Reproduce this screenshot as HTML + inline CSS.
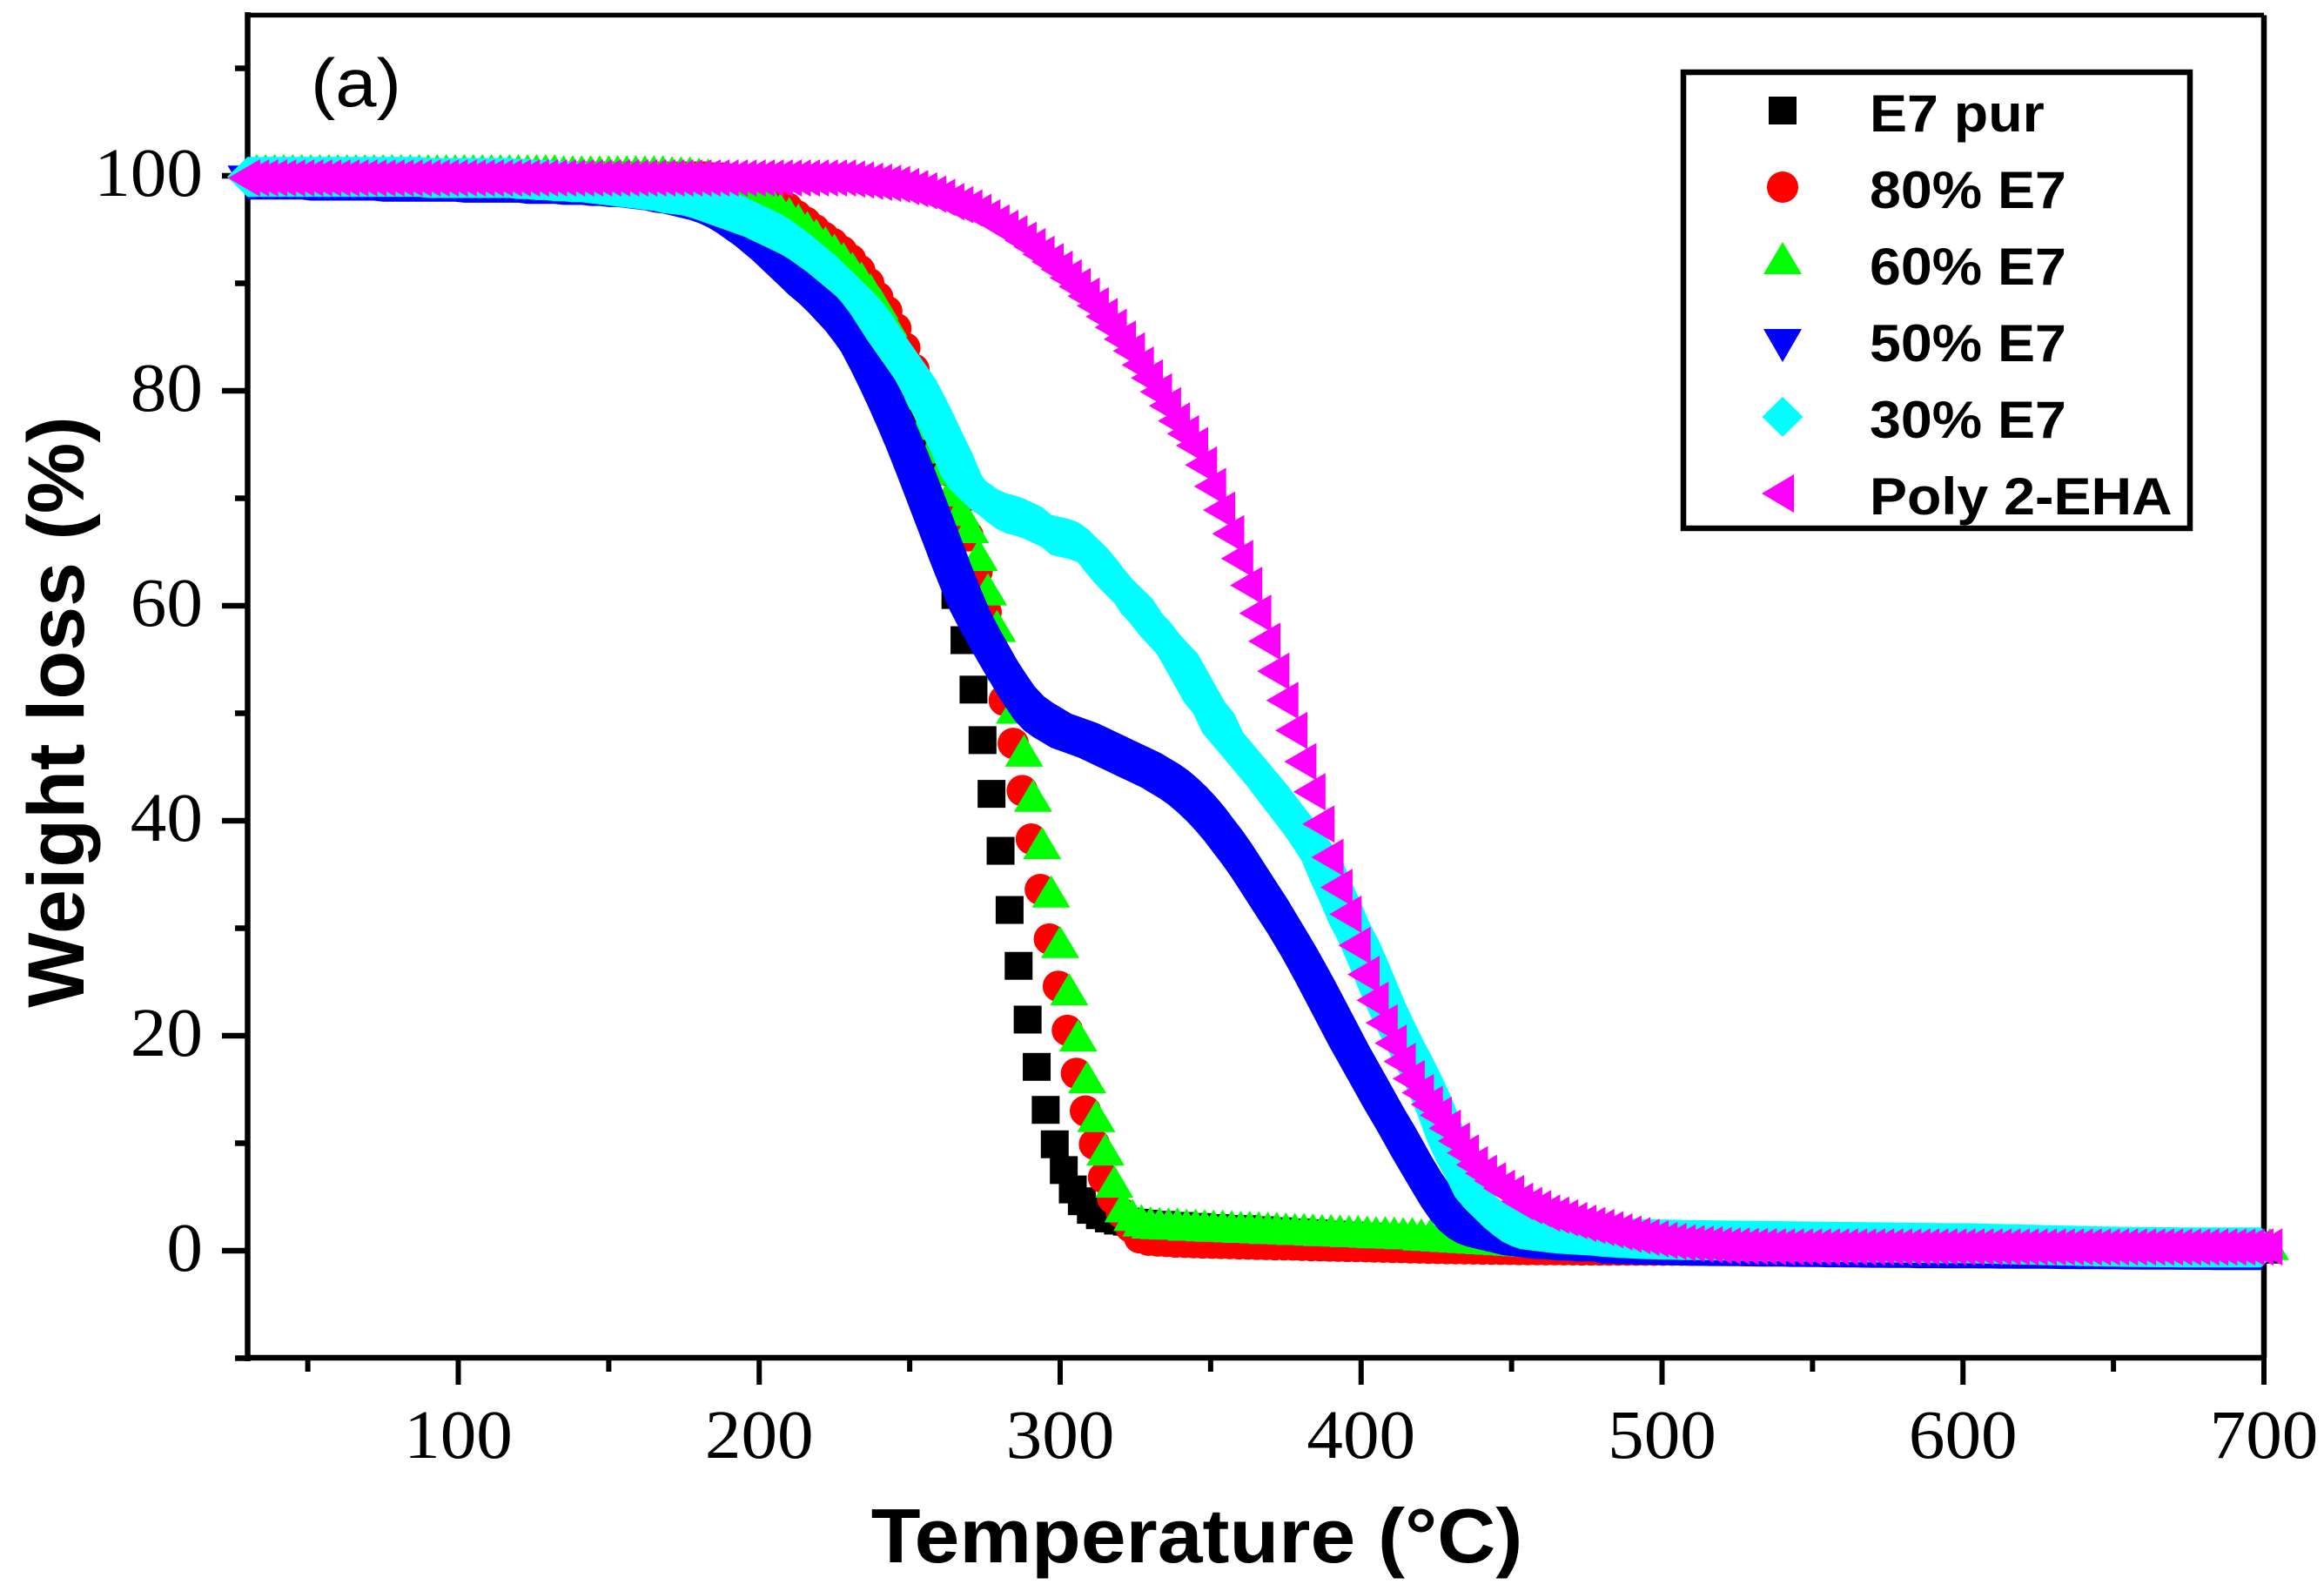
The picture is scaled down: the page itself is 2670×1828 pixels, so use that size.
<!DOCTYPE html>
<html lang="en">
<head>
<meta charset="utf-8">
<title>Weight loss vs temperature</title>
<style>
html,body{margin:0;padding:0;background:#fff;}
svg{display:block;}
text{fill:#000;}
.serif{font-family:"Liberation Serif",serif;font-size:80px;}
.bold{font-family:"Liberation Sans",sans-serif;font-weight:bold;}
</style>
</head>
<body>
<svg id="chart" xmlns="http://www.w3.org/2000/svg" width="2670" height="1828" viewBox="0 0 2670 1828">
  <rect x="0" y="0" width="2670" height="1828" fill="#fff"/>
  <g id="axes"></g>
  <g id="marks"></g>
  <text font-family="'Liberation Sans',sans-serif" font-size="78" transform="translate(357,122) scale(1.09,1)">(a)</text>
  <text class="bold" font-size="91.5" text-anchor="middle" transform="translate(96,818) rotate(-90)">Weight loss (%)</text>
  <text class="bold" font-size="88" text-anchor="middle" transform="translate(1375,1795) scale(1.057,1)">Temperature (°C)</text>
  <g>
    <rect x="1934" y="83" width="582" height="524" fill="#fff" stroke="#000" stroke-width="6.5"/>
    <g>
      <rect x="2032" y="111" width="32" height="32" fill="#000"/>
      <text class="bold" font-size="60" transform="translate(2148,151) scale(1.075,1)">E7 pur</text>
    </g>
    <g>
      <circle cx="2048" cy="215" r="18" fill="#f00"/>
      <text class="bold" font-size="60" transform="translate(2148,239) scale(1.075,1)">80% E7</text>
    </g>
    <g>
      <polygon points="2048,278 2070,315 2026,315" fill="#0f0"/>
      <text class="bold" font-size="60" transform="translate(2148,327) scale(1.075,1)">60% E7</text>
    </g>
    <g>
      <polygon points="2026,378 2070,378 2048,416" fill="#00f"/>
      <text class="bold" font-size="60" transform="translate(2148,415) scale(1.075,1)">50% E7</text>
    </g>
    <g>
      <polygon points="2048,456 2071.5,479 2048,502 2024.5,479" fill="#0ff"/>
      <text class="bold" font-size="60" transform="translate(2148,503) scale(1.075,1)">30% E7</text>
    </g>
    <g>
      <polygon points="2024,567 2061,545 2061,589" fill="#f0f"/>
      <text class="bold" font-size="60" transform="translate(2148,591) scale(1.075,1)">Poly 2-EHA</text>
    </g>
  </g>
</svg>
<script>
const xMajorTicks = [100,200,300,400,500,600,700];
const xMinorTicks = [50,150,250,350,450,550,650];
const yMajorTicks = [0,20,40,60,80,100];
const yMinorTicks = [-10,10,30,50,70,90,110];

const temperatures = [
30,33,36,39,42,45,48,51,54,57,
60,63,66,69,72,75,78,81,84,87,
90,93,96,99,102,105,108,111,114,117,
120,123,126,129,132,135,138,141,144,147,
150,153,156,159,162,165,168,171,174,177,
180,183,186,189,192,195,198,201,204,207,
210,213,216,219,222,225,228,231,234,237,
240,243,246,249,252,255,258,261,264,267,
270,273,276,279,282,285,288,291,294,297,
300,303,306,309,312,315,318,321,324,327,
330,333,336,339,342,345,348,351,354,357,
360,363,366,369,372,375,378,381,384,387,
390,393,396,399,402,405,408,411,414,417,
420,423,426,429,432,435,438,441,444,447,
450,453,456,459,462,465,468,471,474,477,
480,483,486,489,492,495,498,501,504,507,
510,513,516,519,522,525,528,531,534,537,
540,543,546,549,552,555,558,561,564,567,
570,573,576,579,582,585,588,591,594,597,
600,603,606,609,612,615,618,621,624,627,
630,633,636,639,642,645,648,651,654,657,
660,663,666,669,672,675,678,681,684,687,
690,693,696,699,702,705];

const e7PurValues = [
null,100,100,100,100,100,100,100,100,100,
100,100,100,100,99.9,99.9,99.9,99.9,99.9,99.9,
99.9,99.9,99.9,99.8,99.8,99.8,99.8,99.7,99.7,99.7,
99.7,99.6,99.6,99.6,99.5,99.5,99.5,99.4,99.4,99.3,
99.3,99.3,99.3,99.2,99.2,99.2,99.2,99.2,99.1,99.0,
98.6,98.4,98.1,97.8,97.4,97,96.5,95.9,95.3,94.6,
93.9,93,92.1,91.1,90,88.8,87.6,86.2,84.8,83.3,
81.8,80.2,78.6,76.9,75,72.5,69.5,66,61,56.8,
52.2,47.5,42.5,37.2,31.7,26.5,21.5,17.1,13.1,9.9,
7.5,5.7,4.6,3.8,3.3,3,2.8,2.7,2.6,2.5,
2.4,2.4,2.3,2.3,2.2,2.2,2.1,2.1,2,2,
2,1.9,1.9,1.8,1.8,1.7,1.7,1.6,1.6,1.5,
1.5,1.4,1.4,1.3,1.3,1.2,1.2,1.1,1.1,1,
1,0.9,0.9,0.8,0.8,0.7,0.7,0.6,0.6,0.5,
0.5,0.5,0.4,0.4,0.4,0.4,0.3,0.3,0.3,0.3,
0.3,0.3,0.3,0.3,0.3,0.3,0.3,0.3,0.3,0.3,
0.3,0.3,0.3,0.3,0.3,0.3,0.3,0.3,0.3,0.3,
0.3,0.3,0.3,0.3,0.3,0.3,0.3,0.3,0.3,0.3,
0.3,0.3,0.3,0.3,0.3,0.3,0.3,0.3,0.3,0.3,
0.2,0.2,0.2,0.2,0.2,0.2,0.2,0.2,0.2,0.2,
0.2,0.2,0.2,0.2,0.2,0.2,0.2,0.2,0.2,0.2,
0.1,0.1,0.1,0.1,0.1,0.1,0.1,0.1,0.1,0.1,
0.1,0.1,0.1,0.1];

const e7Pct80Values = [
null,100,100,100,100,100,100,100,100,100,
100,100,100,100,100,100,100,100,100,100,
100,100,100,100,100,100,100,100,100,100,
100,100,100,100,100,99.9,99.9,99.9,99.9,99.9,
99.9,99.9,99.9,99.9,99.9,99.9,99.9,99.9,99.9,99.9,
99.9,99.9,99.8,99.8,99.7,99.5,99.3,98.9,98.4,97.8,
97,96.3,95.7,95,94.3,93.7,93,92.2,91.2,90,
88.7,87.4,85.8,84,82,79.8,77.5,75,72.5,69.7,
66.5,63.2,59.4,55,51.2,47.2,42.8,38.3,33.6,29,
24.6,20.5,16.5,13,9.9,6.8,4.9,3.5,2.2,1.2,
0.97,0.9,0.85,0.8,0.78,0.75,0.72,0.7,0.68,0.66,
0.64,0.62,0.6,0.58,0.56,0.55,0.53,0.5,0.48,0.46,
0.44,0.42,0.4,0.38,0.36,0.34,0.32,0.3,0.28,0.26,
0.24,0.22,0.2,0.19,0.18,0.17,0.16,0.15,0.14,0.13,
0.12,0.11,0.1,0.1,0.09,0.09,0.08,0.08,0.07,0.07,
0.06,0.06,0.06,0.06,0.05,0.05,0.05,0.05,0.05,0.05,
0.05,0.05,0.05,0.05,0.05,0.05,0.05];

const e7Pct60Values = [
null,100,100,100,100,100,100,100,100,100,
100,100,100,100,100,100,100,100,100,100,
100,100,100,100,100,100,100,100,100,100,
100,100,100,100,100,99.9,99.9,99.9,99.9,99.9,
99.9,99.9,99.9,99.9,99.9,99.9,99.9,99.8,99.8,99.8,
99.7,99.6,99.4,99.2,99,98.7,98.3,97.7,97.1,96.4,
96,95.4,94.7,94,93.3,92.6,91.8,90.9,90,88.9,
87.6,86,84.2,82,79.2,76.4,74.2,72.2,70.2,68.4,
66.8,64.2,61,57.6,54,50,46,41.8,37.4,32.9,
28.2,23.8,19.5,15.6,12,8.9,5.9,3.6,2.8,2.3,
2.1,2.05,2,2,1.9,1.9,1.85,1.8,1.8,1.75,
1.7,1.7,1.65,1.6,1.6,1.55,1.5,1.5,1.45,1.4,
1.4,1.35,1.3,1.3,1.25,1.2,1.2,1.15,1.1,1.1,
1,0.95,0.9,0.85,0.8,0.75,0.7,0.65,0.6,0.55,
0.5,0.45,0.4,0.35,0.3,0.3,0.25,0.25,0.2,0.2,
0.2,0.2,0.2,0.2,0.2,0.2,0.2,0.2,0.2,0.2,
0.2,0.2,0.2,0.2,0.2,0.2,0.2,0.2,0.2,0.2,
0.2,0.2,0.2,0.2,0.2,0.2,0.2,0.2,0.2,0.2,
0.2,0.2,0.2,0.2,0.2,0.2,0.2,0.2,0.2,0.2,
0.2,0.2,0.2,0.2,0.2,0.2,0.2,0.2,0.2,0.2,
0.15,0.15,0.15,0.15,0.15,0.15,0.15,0.15,0.15,0.15,
0.1,0.1,0.1,0.1,0.1,0.1,0.1,0.1,0.1,0.1,
0.1,0.1,0.1,0.1,0.1];

const e7Pct50Values = [
99.9,99.9,99.9,99.9,99.9,99.9,99.9,99.8,99.8,99.8,
99.8,99.8,99.8,99.8,99.8,99.7,99.7,99.7,99.7,99.7,
99.7,99.7,99.7,99.7,99.6,99.6,99.6,99.6,99.6,99.6,
99.6,99.5,99.5,99.5,99.5,99.4,99.4,99.4,99.3,99.3,
99.2,99.2,99.1,99,98.9,98.7,98.6,98.4,98.2,98,
97.7,97.3,96.8,96.2,95.6,94.9,94.2,93.4,92.6,91.8,
91,90.3,89.5,88.6,87.7,86.6,85.4,84,82.5,80.9,
79.2,77.4,75.5,73.5,71.4,69.2,67,64.8,62.6,60.5,
58.5,56.9,55.4,53.9,52.6,51.4,50.5,49.9,49.4,48.9,
48.6,48.3,48,47.6,47.2,46.8,46.4,46,45.6,45.2,
44.7,44.2,43.6,42.9,42.1,41.2,40.2,39.1,38,36.8,
35.5,34.2,32.9,31.6,30.2,28.8,27.4,25.9,24.4,22.8,
21.2,19.6,18,16.5,15,13.5,12,10.6,9.1,7.6,
6.2,5,4,3.3,2.8,2.5,2.3,2.1,1.9,1.7,
1.6,1.5,1.4,1.3,1.3,1.2,1.2,1.1,1.1,1.1,
0.9,0.9,0.85,0.85,0.8,0.8,0.78,0.76,0.74,0.72,
0.7,0.7,0.68,0.68,0.66,0.66,0.65,0.64,0.63,0.62,
0.62,0.6,0.6,0.58,0.58,0.56,0.56,0.55,0.54,0.53,
0.52,0.52,0.5,0.5,0.5,0.48,0.48,0.48,0.47,0.47,
0.47,0.46,0.45,0.45,0.44,0.44,0.43,0.43,0.42,0.42,
0.41,0.4,0.4,0.39,0.38,0.38,0.37,0.37,0.36,0.36,
0.35,0.35,0.34,0.34,0.33,0.33,0.32,0.32,0.31,0.31,
0.3,0.3,0.3,0.3];

const e7Pct30Values = [
99.9,99.9,99.9,99.9,99.9,99.9,99.9,99.9,99.9,99.9,
99.9,99.9,99.9,99.9,99.9,99.9,99.9,99.9,99.9,99.9,
99.8,99.8,99.8,99.8,99.8,99.8,99.8,99.8,99.8,99.8,
99.7,99.7,99.6,99.6,99.5,99.5,99.4,99.4,99.3,99.2,
99.1,99,98.9,98.8,98.7,98.6,98.4,98.3,98.2,98,
97.7,97.4,97.1,96.8,96.5,96.2,95.8,95.4,95,94.6,
94.1,93.5,92.9,92.2,91.5,90.8,90,89.2,88.3,87.2,
85.9,84.6,83.4,82.2,81,79.4,77.7,75.9,74.2,72.2,
70.9,70.3,69.6,69,68.6,68.4,68.1,67.7,67.3,66.6,
66.4,66.2,65.9,65.3,64.3,63.2,62.2,61.3,60.6,59.3,
58.4,57.3,56.4,55.5,54,52.5,51,50,48.2,47.2,
46.2,45.2,44.2,43.2,42.1,41,39.9,38.8,37.6,36.3,
34.3,32.5,30.5,28.9,27,25,23,21.2,19.5,17.9,
16.2,14.4,12.3,10,8.2,6.7,5,4,3.3,2.7,
2.3,2,1.9,1.8,1.7,1.6,1.55,1.5,1.45,1.4,
1.3,1.25,1.2,1.15,1.1,1.08,1.05,1.03,1.02,1,
1,0.98,0.96,0.95,0.94,0.93,0.92,0.91,0.9,0.89,
0.88,0.87,0.86,0.85,0.84,0.83,0.82,0.81,0.8,0.79,
0.78,0.77,0.76,0.75,0.74,0.73,0.72,0.71,0.7,0.7,
0.7,0.68,0.66,0.64,0.62,0.6,0.58,0.56,0.54,0.52,
0.5,0.48,0.46,0.44,0.42,0.4,0.38,0.37,0.36,0.35,
0.34,0.33,0.32,0.32,0.31,0.31,0.3,0.3,0.3,0.3,
0.3,0.3,0.3,0.3];

const poly2EhaValues = [
99.8,99.8,99.8,99.8,99.8,99.8,99.8,99.8,99.8,99.8,
99.8,99.8,99.8,99.8,99.8,99.8,99.8,99.8,99.8,99.8,
99.8,99.8,99.8,99.8,99.8,99.8,99.8,99.8,99.8,99.8,
99.8,99.8,99.8,99.8,99.8,99.8,99.8,99.8,99.8,99.8,
99.8,99.8,99.8,99.8,99.8,99.8,99.8,99.8,99.8,99.8,
99.8,99.8,99.8,99.8,99.8,99.8,99.8,99.8,99.8,99.8,
99.8,99.8,99.8,99.8,99.8,99.8,99.8,99.7,99.6,99.5,
99.4,99.3,99.2,99,98.8,98.6,98.3,98,97.6,97.3,
97,96.6,96.1,95.6,95.1,94.6,94,93.4,92.7,92,
91.3,90.5,89.7,88.8,87.9,86.9,85.9,84.8,83.7,82.4,
81.2,79.9,78.6,77.2,76,74.9,73.1,71.1,68.9,66.7,
64.4,61.9,59.3,56.7,53.9,51.2,48.4,45.5,42.7,39.7,
36.6,33.8,31.3,28.4,25.7,23.3,21.2,19.3,17.6,16,
14.7,13.6,12.6,11.4,10.2,9.1,8,7.2,6.5,5.8,
5.3,4.6,4.2,3.9,3.5,3.3,3.05,2.8,2.55,2.35,
2.15,1.95,1.75,1.55,1.4,1.25,1.1,0.95,0.85,0.73,
0.66,0.6,0.54,0.48,0.44,0.42,0.4,0.38,0.37,0.36,
0.35,0.35,0.35,0.35,0.35,0.35,0.35,0.35,0.35,0.35,
0.35,0.35,0.35,0.35,0.35,0.35,0.35,0.35,0.35,0.35,
0.35,0.35,0.35,0.35,0.35,0.35,0.35,0.35,0.35,0.35,
0.35,0.35,0.35,0.35,0.35,0.35,0.35,0.35,0.35,0.35,
0.35,0.35,0.35,0.35,0.35,0.35,0.35,0.35,0.35,0.35,
0.35,0.35,0.35,0.35,0.35];

const NS = 'http://www.w3.org/2000/svg';
const plotLeft = 284.5, plotRight = 2601, plotTop = 17.4, plotBottom = 1560;
function xScale(t){ return 526.5 + (t - 100) * 3.4575; }
function yScale(v){ return 1437 - v * 12.35; }
const marksLayer = document.getElementById('marks');
const axesLayer = document.getElementById('axes');

function pts(list){ return list.map(function(p){ return p[0].toFixed(1) + ',' + p[1].toFixed(1); }).join(' '); }
function markerSquare(x,y,c){
  const m = document.createElementNS(NS,'rect');
  m.setAttribute('x',x-16); m.setAttribute('y',y-16); m.setAttribute('width',32); m.setAttribute('height',32); m.setAttribute('fill',c);
  return m;
}
function markerCircle(x,y,c){
  const m = document.createElementNS(NS,'circle');
  m.setAttribute('cx',x); m.setAttribute('cy',y); m.setAttribute('r',18); m.setAttribute('fill',c);
  return m;
}
function markerPoly(list,c){
  const m = document.createElementNS(NS,'polygon');
  m.setAttribute('points',pts(list)); m.setAttribute('fill',c);
  return m;
}
function markerUp(x,y,c){ return markerPoly([[x,y-25],[x+22,y+12],[x-22,y+12]],c); }
function markerDown(x,y,c){ return markerPoly([[x-22,y-12],[x+22,y-12],[x,y+25]],c); }
function markerDiamond(x,y,c){ return markerPoly([[x,y-23],[x+23.5,y],[x,y+23],[x-23.5,y]],c); }
function markerLeft(x,y,c){ return markerPoly([[x-24,y],[x+13,y-21.5],[x+13,y+21.5]],c); }

const downOutline = [[-23,-13],[23,-13],[0,26]];
const diamondOutline = [[0,-23],[23.5,0],[0,23],[-23.5,0]];

function convexHull(points){
  const p = points.slice().sort(function(a,b){ return a[0]-b[0] || a[1]-b[1]; });
  function cross(o,a,b){ return (a[0]-o[0])*(b[1]-o[1])-(a[1]-o[1])*(b[0]-o[0]); }
  const lower = [];
  p.forEach(function(q){
    while(lower.length>=2 && cross(lower[lower.length-2],lower[lower.length-1],q)<=0) lower.pop();
    lower.push(q);
  });
  const upper = [];
  p.slice().reverse().forEach(function(q){
    while(upper.length>=2 && cross(upper[upper.length-2],upper[upper.length-1],q)<=0) upper.pop();
    upper.push(q);
  });
  return lower.slice(0,-1).concat(upper.slice(0,-1));
}

function bandPath(values, shift, outline){
  let d = '';
  for (let i = 0; i + 1 < values.length; i++) {
    const ax = xScale(temperatures[i]+shift), ay = yScale(values[i]);
    const bx = xScale(temperatures[i+1]+shift), by = yScale(values[i+1]);
    const all = outline.map(function(o){ return [ax+o[0],ay+o[1]]; }).concat(outline.map(function(o){ return [bx+o[0],by+o[1]]; }));
    const h = convexHull(all);
    d += 'M' + h.map(function(q){ return q[0].toFixed(1)+' '+q[1].toFixed(1); }).join('L') + 'Z';
  }
  return d;
}

function drawSeries(groupName, markName, values, shift, color, shape, outline){
  const g = document.createElementNS(NS,'g');
  
  
  if (outline) {
    const band = document.createElementNS(NS,'path');
    band.setAttribute('d', bandPath(values, shift, outline));
    band.setAttribute('fill', color);
    
    
    g.appendChild(band);
  }
  values.forEach(function(v,i){
    if (v === null) return;
    const el = shape(xScale(temperatures[i]+shift), yScale(v), color);
    
    
    g.appendChild(el);
  });
  marksLayer.appendChild(g);
}

drawSeries('series-e7-pur','point-e7-pur',e7PurValues,1.2,'#000',markerSquare,null);
drawSeries('series-80-e7','point-80-e7',e7Pct80Values,-0.6,'#f00',markerCircle,null);
drawSeries('series-60-e7','point-60-e7',e7Pct60Values,0,'#0f0',markerUp,null);
drawSeries('series-50-e7','point-50-e7',e7Pct50Values,0,'#00f',markerDown,downOutline);
drawSeries('series-30-e7','point-30-e7',e7Pct30Values,0,'#0ff',markerDiamond,diamondOutline);
drawSeries('series-poly-2-eha','point-poly-2-eha',poly2EhaValues,0.4,'#f0f',markerLeft,null);

function axisLine(x1,y1,x2,y2,w){
  const l = document.createElementNS(NS,'line');
  l.setAttribute('x1',x1); l.setAttribute('y1',y1); l.setAttribute('x2',x2); l.setAttribute('y2',y2);
  l.setAttribute('stroke','#000'); l.setAttribute('stroke-width',w);
  axesLayer.appendChild(l);
  return l;
}
const frameTop = axisLine(plotLeft,plotTop,plotRight,plotTop,5.5);


const frameRight = axisLine(plotRight,plotTop,plotRight,plotBottom,6.5);


const yAxisLine = axisLine(plotLeft,14,plotLeft,plotBottom+4,6.5);


const xAxisLine = axisLine(plotLeft-3,plotBottom,plotRight+3,plotBottom,6.5);



xMajorTicks.forEach(function(t){
  const tick = axisLine(xScale(t),plotBottom,xScale(t),1591,6);
  
  
  const label = document.createElementNS(NS,'text');
  label.setAttribute('transform','translate('+xScale(t)+',1675) scale(1.04,1)');
  label.setAttribute('text-anchor','middle');
  label.setAttribute('class','serif');
  
  
  label.textContent = t;
  axesLayer.appendChild(label);
});
xMinorTicks.forEach(function(t){
  const tick = axisLine(xScale(t),plotBottom,xScale(t),1576,6);
  
  
});
yMajorTicks.forEach(function(v){
  const tick = axisLine(255,yScale(v),plotLeft,yScale(v),6.5);
  
  
  const label = document.createElementNS(NS,'text');
  label.setAttribute('transform','translate(233,'+(yScale(v)+23)+') scale(1.04,1)');
  label.setAttribute('text-anchor','end');
  label.setAttribute('class','serif');
  
  
  label.textContent = v;
  axesLayer.appendChild(label);
});
yMinorTicks.forEach(function(v){
  const tick = axisLine(270,yScale(v),plotLeft,yScale(v),6.5);
  
  
});
</script>
</body>
</html>
